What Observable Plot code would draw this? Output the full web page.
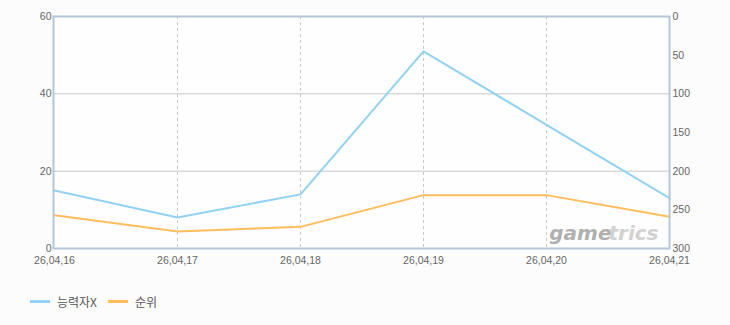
<!DOCTYPE html>
<html><head><meta charset="utf-8">
<script src="https://cdn.jsdelivr.net/npm/d3@7"></script>
<script src="https://cdn.jsdelivr.net/npm/@observablehq/plot@0.6"></script>
<style>
body{margin:0;background:#fcfcfc;font-family:"Liberation Sans",Arial,sans-serif;}
#chart svg{display:block;}
.legend{display:flex;align-items:center;height:62px;padding-left:30px;font-family:"Noto Sans CJK KR","Noto Sans",sans-serif;font-size:12px;color:#555;}
.item{display:flex;align-items:center;margin-right:11px;}
.sw{width:20px;height:3px;margin-right:7px;}
</style></head><body>
<div id="chart"></div>
<div class="legend" id="legend"></div>
<script>
const dates = ["26,04,16","26,04,17","26,04,18","26,04,19","26,04,20","26,04,21"];
const viewers = [15, 8, 14, 51, 32, 13];
const ranks = [257, 278, 272, 231, 231, 259];
const leftTicks = [0, 20, 40, 60];
const rightTicks = [0, 50, 100, 150, 200, 250, 300];
const gridValues = [20, 40];
const seriesNames = ["능력자X", "순위"];
const seriesColors = ["#92d2f2", "#ffbd5c"];

const leftMax = 60, rankMax = 300;
const toLeft = r => (rankMax - r) * leftMax / rankMax;
const fromLeft = v => Math.round(rankMax - v * rankMax / leftMax);

const data = dates.map((d, i) => ({date: d, v: viewers[i], r: ranks[i]}));

const plot = Plot.plot({
  width: 730,
  height: 270,
  marginLeft: 53,
  marginRight: 61,
  marginTop: 16,
  marginBottom: 22,
  style: {background: "transparent", fontFamily: "Liberation Sans, Arial, sans-serif", fontSize: "10.5px", color: "#666"},
  x: {type: "point", domain: dates, padding: 0},
  y: {domain: [0, leftMax]},
  marks: [
    Plot.frame({fill: "#fefefe"}),
    Plot.ruleY(gridValues, {stroke: "#c8c8c8", strokeWidth: 1}),
    Plot.ruleX(dates.slice(1, -1), {stroke: "#c8c8c8", strokeDasharray: "3,3", strokeWidth: 1}),
    Plot.text(["game"], {frameAnchor: "bottom-right", dx: -58, dy: -9, textAnchor: "end", fill: "#b0b0b0", fontSize: 20, fontWeight: "bold", fontStyle: "italic", fontFamily: "DejaVu Sans"}),
    Plot.text(["trics"], {frameAnchor: "bottom-right", dx: -11, dy: -9, textAnchor: "end", fill: "#d2d2d2", fontSize: 20, fontWeight: "bold", fontStyle: "italic", fontFamily: "DejaVu Sans"}),
    Plot.line(data, {x: "date", y: "v", stroke: seriesColors[0], strokeWidth: 2}),
    Plot.line(data, {x: "date", y: d => toLeft(d.r), stroke: seriesColors[1], strokeWidth: 2}),
    Plot.axisY({ticks: leftTicks, anchor: "left", tickSize: 0, tickPadding: 2, label: null, fill: "#666"}),
    Plot.axisY({ticks: rightTicks.map(toLeft), anchor: "right", tickSize: 0, tickPadding: 3, label: null, fill: "#666", tickFormat: fromLeft}),
    Plot.axisX({ticks: dates, tickSize: 0, tickPadding: 8, label: null, fill: "#666"}),
    Plot.frame({stroke: "#b4c6d8", strokeWidth: 2})
  ]
});
document.getElementById("chart").appendChild(plot);

const legend = document.getElementById("legend");
seriesNames.forEach((n, i) => {
  const it = document.createElement("div");
  it.className = "item";
  it.innerHTML = `<span class="sw" style="background:${seriesColors[i]}"></span><span>${n}</span>`;
  legend.appendChild(it);
});
</script>
</body></html>
